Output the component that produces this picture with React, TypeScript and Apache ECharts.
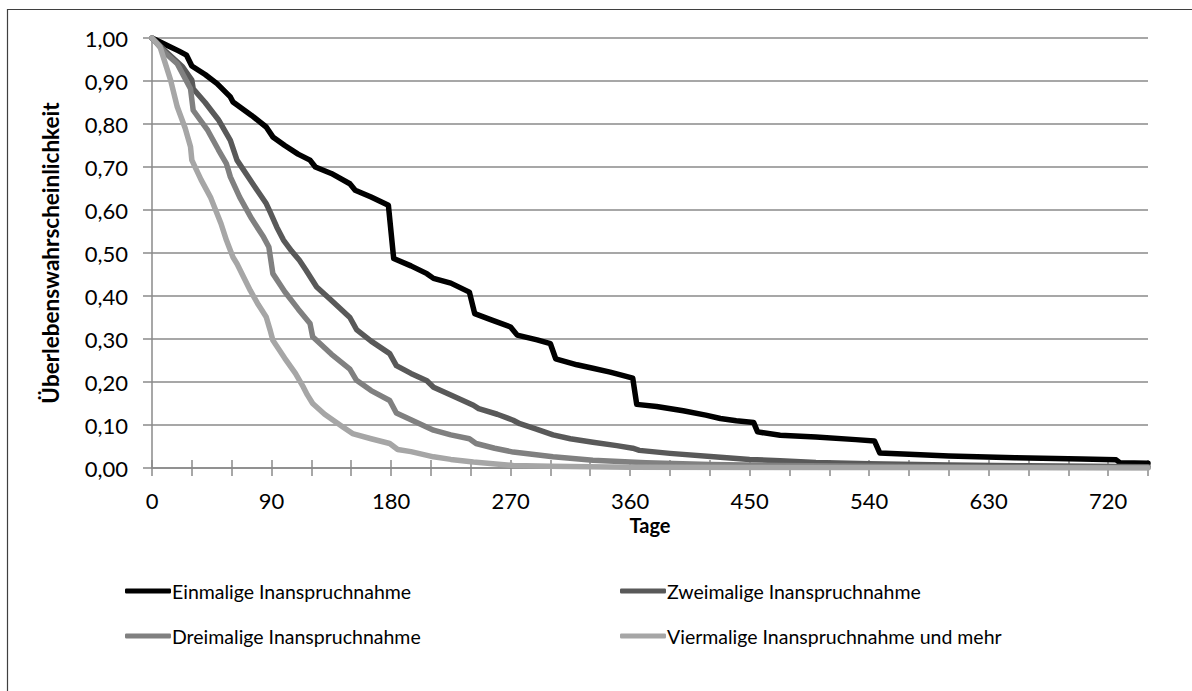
import React, { useEffect, useRef } from "react";
import * as echarts from "echarts";

const seriesNames = [
  "Einmalige Inanspruchnahme",
  "Zweimalige Inanspruchnahme",
  "Dreimalige Inanspruchnahme",
  "Viermalige Inanspruchnahme und mehr",
];

const einDays = [0, 10, 20, 26, 30, 40, 49, 59, 61, 75, 86, 91, 100, 110, 119, 123, 135, 149, 153, 165, 178, 182, 195, 207, 212, 225, 239, 243, 255, 270, 275, 290, 300, 304, 320, 332, 345, 355, 362, 365, 380, 400, 417, 428, 440, 453, 456, 473, 500, 530, 544, 548, 570, 600, 650, 700, 726, 729, 750];
const einVals = [1.0, 0.985, 0.97, 0.96, 0.935, 0.915, 0.894, 0.863, 0.851, 0.82, 0.793, 0.77, 0.75, 0.73, 0.716, 0.7, 0.685, 0.661, 0.646, 0.63, 0.611, 0.487, 0.47, 0.452, 0.441, 0.43, 0.409, 0.359, 0.345, 0.328, 0.309, 0.298, 0.289, 0.254, 0.24, 0.232, 0.223, 0.215, 0.209, 0.148, 0.143, 0.133, 0.123, 0.115, 0.11, 0.106, 0.084, 0.076, 0.072, 0.066, 0.063, 0.035, 0.032, 0.028, 0.024, 0.021, 0.019, 0.012, 0.011];

const zweiDays = [0, 10, 23, 30, 31, 40, 50, 59, 64, 75, 86, 89, 94, 99, 105, 111, 116, 124, 135, 149, 154, 165, 179, 184, 195, 207, 212, 225, 242, 246, 260, 272, 277, 290, 302, 315, 332, 350, 362, 367, 390, 423, 450, 473, 500, 540, 600, 660, 750];
const zweiVals = [1.0, 0.97, 0.933, 0.902, 0.882, 0.85, 0.81, 0.762, 0.716, 0.665, 0.615, 0.595, 0.56, 0.53, 0.505, 0.483, 0.46, 0.421, 0.39, 0.35, 0.322, 0.295, 0.266, 0.238, 0.22, 0.203, 0.188, 0.17, 0.146, 0.138, 0.125, 0.111, 0.103, 0.09, 0.077, 0.068, 0.06, 0.052, 0.046, 0.041, 0.034, 0.026, 0.02, 0.017, 0.013, 0.01, 0.007, 0.005, 0.003];

const dreiDays = [0, 10, 19, 29, 31, 42, 50, 56, 59, 66, 75, 84, 88, 91, 100, 110, 119, 121, 135, 149, 154, 165, 179, 184, 195, 212, 225, 239, 244, 258, 272, 302, 332, 372, 420, 473, 540, 630, 750];
const dreiVals = [1.0, 0.965, 0.94, 0.882, 0.832, 0.785, 0.74, 0.708, 0.677, 0.63, 0.58, 0.537, 0.514, 0.452, 0.41, 0.37, 0.336, 0.305, 0.265, 0.23, 0.204, 0.18, 0.157, 0.128, 0.112, 0.088, 0.077, 0.068, 0.057, 0.046, 0.037, 0.026, 0.018, 0.012, 0.008, 0.006, 0.004, 0.002, 0.001];

const vierDays = [0, 6, 14, 19, 25, 29, 30, 37, 44, 52, 56, 61, 64, 74, 80, 86, 89, 91, 100, 108, 114, 117, 121, 130, 144, 151, 165, 179, 185, 195, 212, 225, 242, 272, 300, 360, 450, 750];
const vierVals = [1.0, 0.98, 0.902, 0.84, 0.79, 0.747, 0.716, 0.67, 0.63, 0.568, 0.53, 0.49, 0.475, 0.413, 0.38, 0.351, 0.32, 0.297, 0.255, 0.22, 0.188, 0.17, 0.15, 0.125, 0.095, 0.08, 0.068, 0.057, 0.043, 0.038, 0.026, 0.02, 0.014, 0.006, 0.004, 0.002, 0.001, 0.0];

const seriesColors = ["#000000", "#595959", "#808080", "#a6a6a6"];

const xMin = 0;
const xMax = 750;
const xTickStep = 30;
const xLabelStep = 90;
const yMin = 0;
const yMax = 1;
const yStep = 0.1;

const FONT = "Lato, 'Open Sans', sans-serif";

function zip(days: number[], vals: number[]) {
  return days.map((d, i) => [d, vals[i]]);
}

export default function App() {
  const ref = useRef<HTMLDivElement>(null);
  useEffect(() => {
    if (!ref.current) return;
    const chart = echarts.init(ref.current, undefined, { renderer: "svg" });
    const data = [
      zip(einDays, einVals),
      zip(zweiDays, zweiVals),
      zip(dreiDays, dreiVals),
      zip(vierDays, vierVals),
    ];
    const gridColor = "#8a8a8a";
    const legendBase = {
      orient: "vertical",
      top: 576,
      itemWidth: 46,
      itemHeight: 5,
      itemGap: 25,
      icon: "roundRect",
      textStyle: { fontFamily: FONT, fontSize: 19.5, color: "#000", padding: [0, 0, 0, -4] },
    };
    const option: any = {
      animation: false,
      backgroundColor: "#ffffff",
      textStyle: { fontFamily: FONT },
      grid: { left: 152, top: 38, right: 44, bottom: 223, containLabel: false },
      xAxis: [
        {
          type: "value",
          min: xMin,
          max: xMax,
          interval: xTickStep,
          name: "Tage",
          nameLocation: "middle",
          nameGap: 48,
          nameMoveOverlap: false,
          nameTextStyle: { fontFamily: FONT, fontSize: 20, fontWeight: "bold", color: "#000", lineHeight: 18 },
          axisLine: { show: true, onZero: false, lineStyle: { color: gridColor, width: 1.5 } },
          axisTick: { show: true, length: 8, inside: false, lineStyle: { color: gridColor, width: 1.5 } },
          axisLabel: {
            margin: 23,
            fontFamily: FONT,
            fontSize: 22,
            lineHeight: 18,
            color: "#000",
            formatter: (v: number) => (v % xLabelStep === 0 ? String(v) : ""),
          },
          splitLine: { show: false },
        },
        {
          type: "value",
          min: xMin,
          max: xMax,
          interval: xTickStep,
          position: "bottom",
          axisLine: { show: false, onZero: false },
          axisTick: { show: true, length: 8, inside: true, lineStyle: { color: gridColor, width: 1.5 } },
          axisLabel: { show: false },
          splitLine: { show: false },
        },
      ],
      yAxis: {
        type: "value",
        min: yMin,
        max: yMax,
        interval: yStep,
        name: "Überlebenswahrscheinlichkeit",
        nameLocation: "middle",
        nameGap: 90,
        nameMoveOverlap: false,
        nameTextStyle: { fontFamily: FONT, fontSize: 22.5, fontWeight: "bold", color: "#000" },
        axisLine: { show: true, lineStyle: { color: gridColor, width: 1.5 } },
        axisTick: { show: true, length: 9, inside: false, lineStyle: { color: gridColor, width: 1.5 } },
        axisLabel: {
          margin: 24,
          fontFamily: FONT,
          fontSize: 22,
          color: "#000",
          formatter: (v: number) => v.toFixed(2).replace(".", ","),
        },
        splitLine: { show: true, lineStyle: { color: gridColor, width: 1.5 } },
      },
      legend: [
        { ...legendBase, left: 120, data: [seriesNames[0], seriesNames[2]] },
        { ...legendBase, left: 615, data: [seriesNames[1], seriesNames[3]] },
      ],
      graphic: [
        {
          type: "rect",
          left: 5,
          top: 7,
          shape: { width: 1250, height: 750 },
          style: { fill: "none", stroke: "#3f3f3f", lineWidth: 1.2 },
          silent: true,
        },
      ],
      series: seriesNames.map((name, i) => ({
        name,
        type: "line",
        xAxisIndex: 0,
        data: data[i],
        showSymbol: false,
        symbol: "none",
        color: seriesColors[i],
        lineStyle: { color: seriesColors[i], width: 5.5, cap: "round", join: "round" },
        z: 2 + i,
      })),
    };
    chart.setOption(option);
    return () => chart.dispose();
  }, []);
  return (
    <div
      ref={ref}
      style={{ position: "fixed", left: 0, top: 0, width: 1192, height: 691, background: "#fff" }}
    />
  );
}
